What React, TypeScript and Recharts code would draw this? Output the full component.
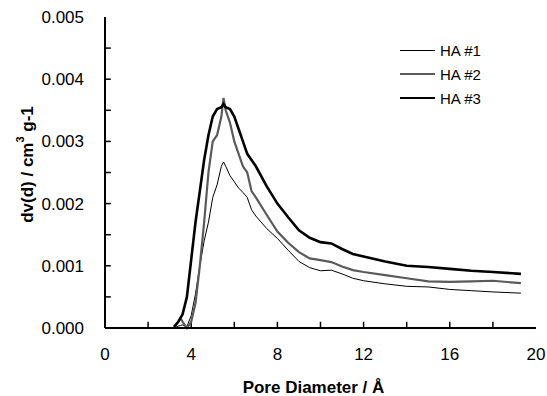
import { LineChart, Line, XAxis, YAxis, ReferenceLine } from "recharts";

const diameters = [3.2, 3.4, 3.5, 3.6, 3.8, 4.0, 4.2, 4.4, 4.6, 4.8, 5.0, 5.2, 5.4, 5.5, 5.6, 5.8, 6.0, 6.2, 6.4, 6.6, 6.8, 7.0, 7.5, 8.0, 8.5, 9.0, 9.5, 10.0, 10.5, 11.0, 11.5, 12, 13, 14, 15, 16, 17, 18, 19.3];

const ha1 = [0, 0.00003, 0.00004, 0.00005, 0.00002, 0.0002, 0.00055, 0.001, 0.0014, 0.0017, 0.0021, 0.0023, 0.0026, 0.00267, 0.0026, 0.00245, 0.00235, 0.00225, 0.00218, 0.0021, 0.0019, 0.0018, 0.0016, 0.00144, 0.00125, 0.00107, 0.00097, 0.00092, 0.00093, 0.00087, 0.0008, 0.00076, 0.00071, 0.00067, 0.00066, 0.00062, 0.0006, 0.00058, 0.00056];
const ha2 = [0, 0.0001, 0.00016, 0.0001, 0, 0.0001, 0.0004, 0.001, 0.0017, 0.0025, 0.003, 0.0031, 0.0034, 0.0037, 0.0035, 0.0033, 0.003, 0.0028, 0.0026, 0.0025, 0.0022, 0.0021, 0.00182, 0.00155, 0.00137, 0.00122, 0.00112, 0.00109, 0.00106, 0.00099, 0.00093, 0.0009, 0.00085, 0.0008, 0.00075, 0.00074, 0.00075, 0.00076, 0.00072];
const ha3 = [0.00002, 0.0001, 0.00016, 0.00022, 0.0005, 0.0011, 0.0017, 0.0022, 0.0027, 0.0031, 0.0034, 0.00352, 0.00355, 0.0036, 0.00355, 0.00352, 0.0034, 0.0032, 0.003, 0.0028, 0.0027, 0.0026, 0.00228, 0.002, 0.00178, 0.00157, 0.00145, 0.00138, 0.00136, 0.00127, 0.00119, 0.00115, 0.00107, 0.001, 0.00098, 0.00095, 0.00092, 0.0009, 0.00087];

const xTicks = [0, 2, 4, 6, 8, 10, 12, 14, 16, 18, 20];
const yTicks = [0, 0.0005, 0.001, 0.0015, 0.002, 0.0025, 0.003, 0.0035, 0.004, 0.0045, 0.005];

const series = [
  { key: "ha1", name: "HA #1", color: "#000000", width: 1 },
  { key: "ha2", name: "HA #2", color: "#5a5a5a", width: 2.2 },
  { key: "ha3", name: "HA #3", color: "#000000", width: 2.6 },
];

const data = diameters.map((d, i) => ({ d, ha1: ha1[i], ha2: ha2[i], ha3: ha3[i] }));

const FONT = "Liberation Sans, Arial, sans-serif";

// inward tick marks as short segments in data units (~6px)
const X_TICK_LEN = 0.0001;
const Y_TICK_LEN = 0.27;

function LegendBox() {
  return (
    <div style={{ position: "absolute", left: 400, top: 38, fontFamily: FONT, fontSize: 15 }}>
      {series.map((s) => (
        <div key={s.key} style={{ display: "flex", alignItems: "center", height: 24 }}>
          <div style={{ width: 35, height: s.width, background: s.color, marginRight: 5 }} />
          <span>{s.name}</span>
        </div>
      ))}
    </div>
  );
}

export default function App() {
  return (
    <div style={{ position: "absolute", left: 0, top: 0, width: 547, height: 396, background: "#fff" }}>
      <LineChart width={547} height={396} data={data} margin={{ top: 17, right: 11, bottom: 0, left: 0 }}>
        <XAxis
          dataKey="d"
          type="number"
          domain={[0, 20]}
          ticks={xTicks}
          interval={0}
          tickLine={false}
          tickSize={0}
          tickMargin={20}
          height={68}
          axisLine={{ stroke: "#000", strokeWidth: 2 }}
          tickFormatter={(v: number) => (v % 4 === 0 ? String(v) : "")}
          tick={{ fill: "#000", fontSize: 17, fontFamily: FONT }}
          label={{ value: "Pore Diameter / Å", position: "insideBottom", offset: 3, fill: "#000", fontSize: 17, fontWeight: "bold", fontFamily: FONT, dx: -7 }}
        />
        <XAxis xAxisId="top" orientation="top" type="number" domain={[0, 20]} ticks={[]} height={0} axisLine={{ stroke: "#000", strokeWidth: 2 }} tick={false} />
        <YAxis
          type="number"
          domain={[0, 0.005]}
          ticks={yTicks}
          interval={0}
          tickLine={false}
          tickSize={0}
          tickMargin={21}
          width={105}
          axisLine={{ stroke: "#000", strokeWidth: 2 }}
          tickFormatter={(v: number) => (Math.round(v * 10000) % 10 === 0 ? v.toFixed(3) : "")}
          tick={{ fill: "#000", fontSize: 17, fontFamily: FONT }}
          label={({ viewBox }: any) => {
            const cx = 27;
            const cy = viewBox.y + viewBox.height / 2 - 8;
            return (
              <text x={cx} y={cy} transform={`rotate(-90 ${cx} ${cy})`} textAnchor="middle" fill="#000" fontSize={17} fontWeight="bold" fontFamily={FONT} dominantBaseline="central">
                dv(d) / cm<tspan dy={-7} fontSize={11}>3</tspan><tspan dy={7}> g-1</tspan>
              </text>
            );
          }}
        />
        <YAxis yAxisId="right" orientation="right" type="number" domain={[0, 0.005]} ticks={[]} width={0} axisLine={{ stroke: "#000", strokeWidth: 2 }} tick={false} />
        {xTicks.slice(1, -1).map((t) => (
          <ReferenceLine key={`xt${t}`} segment={[{ x: t, y: 0 }, { x: t, y: X_TICK_LEN }]} stroke="#000" strokeWidth={1.5} ifOverflow="visible" />
        ))}
        {yTicks.slice(1, -1).map((t) => (
          <ReferenceLine key={`yt${t}`} segment={[{ x: 0, y: t }, { x: Y_TICK_LEN, y: t }]} stroke="#000" strokeWidth={1.5} ifOverflow="visible" />
        ))}
        {series.map((s) => (
          <Line
            key={s.key}
            dataKey={s.key}
            name={s.name}
            stroke={s.color}
            strokeWidth={s.width}
            dot={false}
            type="linear"
            isAnimationActive={false}
          />
        ))}
      </LineChart>
      <LegendBox />
    </div>
  );
}
